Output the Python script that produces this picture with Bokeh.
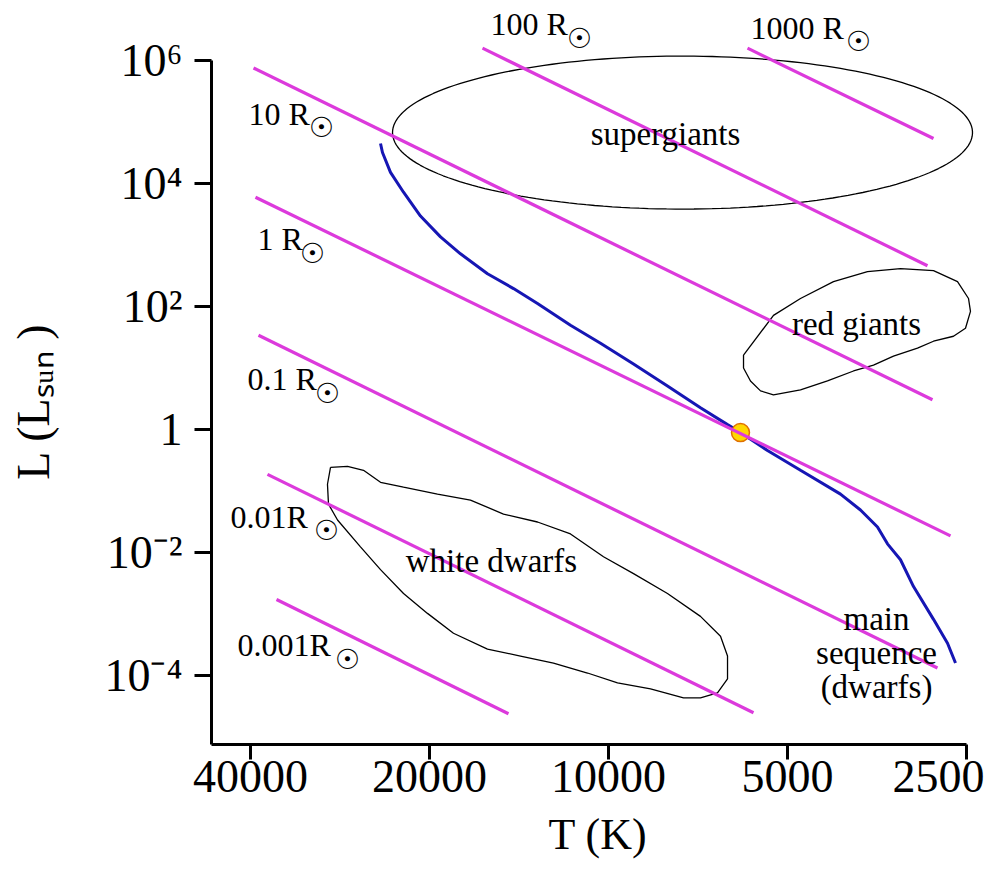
import numpy as np
from bokeh.plotting import figure
from bokeh.models import Range1d, FixedTicker, ColumnDataSource
from bokeh.core.properties import value
from bokeh.embed import file_html
from bokeh.resources import INLINE

FONT = "Liberation Serif"

# ---------------- data (log10 T [K], log10 L [Lsun]) ----------------
t_ticks = [40000, 20000, 10000, 5000, 2500]
t_tick_labels = ["40000", "20000", "10000", "5000", "2500"]
l_ticks = [1e-4, 1e-2, 1.0, 1e2, 1e4, 1e6]
l_tick_labels = ["10\u207b\u2074", "10\u207b\u00b2", "1", "10\u00b2", "10\u2074", "10\u2076"]

# main sequence
ms_logT = [4.3834, 4.3801, 4.3666, 4.3447, 4.3162, 4.2825, 4.2489, 4.2035, 4.1597,
           4.1194, 4.0639, 4.0134, 3.9579, 3.9008, 3.8453, 3.7998, 3.7780, 3.7326,
           3.6771, 3.6098, 3.5762, 3.5476, 3.5308, 3.5089, 3.4870, 3.4534, 3.4298, 3.4164]
ms_logL = [4.645, 4.500, 4.177, 3.855, 3.468, 3.129, 2.855, 2.532, 2.290,
           2.048, 1.694, 1.403, 1.065, 0.710, 0.355, 0.081, -0.048, -0.339,
           -0.661, -1.048, -1.306, -1.581, -1.855, -2.113, -2.548, -3.081, -3.468, -3.790]

# constant-radius lines
radius_names = ["1000 R", "100 R", "10 R", "1 R", "0.1 R", "0.01R", "0.001R"]
radius_logT0 = [3.7662, 4.2119, 4.5970, 4.5937, 4.5886, 4.5735, 4.5583]
radius_logL0 = [6.194, 6.194, 5.871, 3.774, 1.532, -0.726, -2.758]
radius_logT1 = [3.4534, 3.4635, 3.4551, 3.4248, 3.4467, 3.7561, 4.1682]
radius_logL1 = [4.726, 2.661, 0.484, -1.726, -3.871, -4.597, -4.613]
radius_label_logT = [3.7612, 4.1984, 4.6054, 4.5903, 4.6071, 4.6357, 4.6239]
radius_label_logL = [6.516, 6.581, 5.129, 3.097, 0.823, -1.419, -3.500]
sun_sym_logT = [3.5795, 4.0488, 4.4827, 4.4978, 4.4726, 4.4742, 4.4389]
sun_sym_logL = [6.306, 6.355, 4.903, 2.855, 0.581, -1.645, -3.726]

# the Sun
sun_logT = [3.778]
sun_logL = [-0.048]

# regions
supergiant_center = (3.8755, 4.823)
supergiant_halfwidth = (0.4877, 1.242)

red_giant_logT = [3.7729, 3.7225, 3.6771, 3.6216, 3.5644, 3.5089, 3.4534, 3.4130, 3.3945,
                  3.3912, 3.3996, 3.4198, 3.4534, 3.4803, 3.5207, 3.5543, 3.5879, 3.6317,
                  3.6771, 3.7225, 3.7443, 3.7612, 3.7729]
red_giant_logL = [1.210, 1.855, 2.129, 2.403, 2.565, 2.613, 2.581, 2.403, 2.129,
                  1.919, 1.645, 1.516, 1.435, 1.323, 1.194, 1.048, 0.952, 0.790,
                  0.645, 0.565, 0.629, 0.790, 1.000]

white_dwarf_logT = [4.4675, 4.4389, 4.4120, 4.3834, 4.3447, 4.2876, 4.2321, 4.1766, 4.1194,
                    4.0639, 4.0084, 3.9579, 3.9008, 3.8453, 3.8116, 3.7998, 3.7998, 3.8167,
                    3.8453, 3.8738, 3.9293, 3.9848, 4.0353, 4.0925, 4.1480, 4.2035, 4.2607,
                    4.3044, 4.3447, 4.3834, 4.4171, 4.4557, 4.4709, 4.4726]
white_dwarf_logL = [-0.613, -0.597, -0.661, -0.855, -0.935, -1.048, -1.145, -1.371, -1.500,
                    -1.694, -2.065, -2.339, -2.661, -3.032, -3.355, -3.677, -4.048, -4.274,
                    -4.355, -4.355, -4.210, -4.113, -3.952, -3.790, -3.677, -3.565, -3.306,
                    -2.984, -2.661, -2.274, -1.903, -1.468, -1.210, -0.887]

region_names = ["supergiants", "red giants", "white dwarfs", "main\nsequence\n(dwarfs)"]
region_logT = [3.9041, 3.5829, 4.1968, 3.5492]
region_logL = [4.806, 1.710, -2.129, -3.629]

# plot extent
x_logT_range = (4.66765, 3.36762)
y_logL_range = (-5.1129, 6.9677)

# ---------------- figure ----------------
def p10(a):
    return [10.0 ** v for v in a]

def closed(a):
    return list(a) + [a[0]]

p = figure(width=984, height=861, x_axis_type="log", y_axis_type="log",
           x_range=Range1d(10 ** x_logT_range[0], 10 ** x_logT_range[1]),
           y_range=Range1d(10 ** y_logL_range[0], 10 ** y_logL_range[1]),
           output_backend="svg", toolbar_location=None,
           min_border_left=211, min_border_right=0, min_border_top=0, min_border_bottom=112)
p.outline_line_color = None
p.grid.visible = False
p.background_fill_color = "white"
p.border_fill_color = "white"

# regions
tt = np.linspace(0, 2 * np.pi, 200)
sg_x = 10 ** (supergiant_center[0] + supergiant_halfwidth[0] * np.cos(tt))
sg_y = 10 ** (supergiant_center[1] + supergiant_halfwidth[1] * np.sin(tt))
p.line(sg_x, sg_y, line_color="black", line_width=1.3)
p.line(p10(closed(red_giant_logT)), p10(closed(red_giant_logL)), line_color="black", line_width=1.3)
p.line(p10(closed(white_dwarf_logT)), p10(closed(white_dwarf_logL)), line_color="black", line_width=1.3)

# main sequence
p.line(p10(ms_logT), p10(ms_logL), line_color="#1616b4", line_width=3)

# sun
p.scatter(p10(sun_logT), p10(sun_logL), size=18, marker="circle",
          fill_color="#ffd800", line_color="#e07000", line_width=1.5)

# radius lines
xs = [[10 ** a, 10 ** b] for a, b in zip(radius_logT0, radius_logT1)]
ys = [[10 ** a, 10 ** b] for a, b in zip(radius_logL0, radius_logL1)]
p.multi_line(xs, ys, line_color="#dc3adc", line_width=3.2)

# labels
rsrc = ColumnDataSource(dict(x=p10(radius_label_logT), y=p10(radius_label_logL), t=radius_names))
p.text("x", "y", text="t", source=rsrc, text_font=value(FONT), text_font_size="32px",
       text_align="left", text_baseline="middle", text_color="black")
ssrc = ColumnDataSource(dict(x=p10(sun_sym_logT), y=p10(sun_sym_logL), t=["\u2609"] * len(sun_sym_logT)))
p.text("x", "y", text="t", source=ssrc, text_font=value("DejaVu Sans"), text_font_size="28px",
       text_align="center", text_baseline="middle", text_color="black")
gsrc = ColumnDataSource(dict(x=p10(region_logT), y=p10(region_logL), t=region_names))
p.text("x", "y", text="t", source=gsrc, text_font=value(FONT), text_font_size="33px",
       text_align="center", text_baseline="middle", text_color="black", text_line_height=0.94)

# axes
for ax in (p.xaxis[0], p.yaxis[0]):
    ax.axis_line_width = 3
    ax.axis_line_color = "black"
    ax.major_tick_line_width = 3
    ax.major_tick_line_color = "black"
    ax.major_tick_in = 0
    ax.minor_tick_line_color = None
    ax.major_label_text_font = FONT
    ax.major_label_text_font_size = "46px"
    ax.major_label_text_color = "black"
    ax.axis_label_text_font = FONT
    ax.axis_label_text_font_style = "normal"
    ax.axis_label_text_color = "black"

p.xaxis.ticker = FixedTicker(ticks=t_ticks)
p.xaxis.major_label_overrides = {t: s for t, s in zip(t_ticks, t_tick_labels)}
p.xaxis.bounds = (2500, 10 ** x_logT_range[0])
p.xaxis.major_tick_out = 15
p.xaxis.major_label_standoff = 1
p.xaxis.axis_label = "T (K)"
p.xaxis.axis_label_text_font_size = "44px"
p.xaxis.axis_label_standoff = 15

p.yaxis.ticker = FixedTicker(ticks=l_ticks)
p.yaxis.major_label_overrides = {t: s for t, s in zip(l_ticks, l_tick_labels)}
p.yaxis.bounds = (10 ** y_logL_range[0], 1e6)
p.yaxis.major_tick_out = 17
p.yaxis.major_label_standoff = 12
p.yaxis.axis_label = "L (L\u209b\u1d64\u2099 )" + "\u00a0" * 5
p.yaxis.axis_label_text_font_size = "46px"
p.yaxis.axis_label_standoff = 42

open("out.html", "w").write(file_html(p, INLINE))
